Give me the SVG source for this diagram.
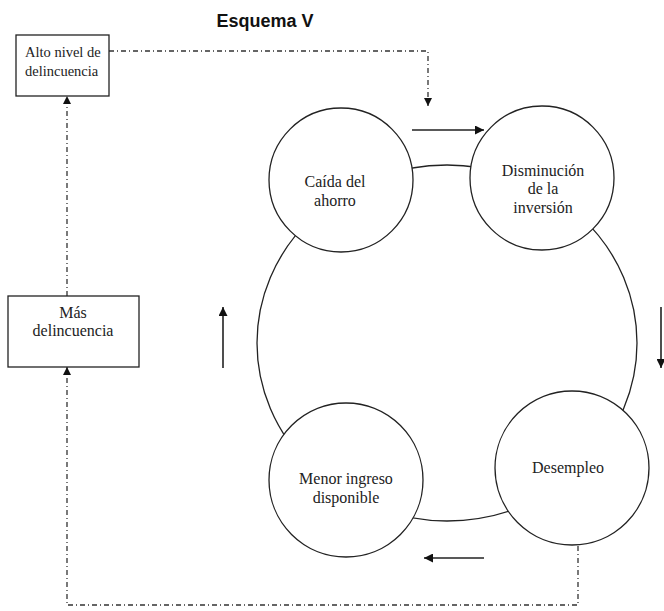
<svg xmlns="http://www.w3.org/2000/svg" width="664" height="611" viewBox="0 0 664 611">
<style>
.nd{fill:#fff;stroke:#222;stroke-width:1.3}
.t{font-family:"Liberation Serif","Times New Roman",serif;font-size:16px;fill:#222;text-anchor:middle}
.ts{font-family:"Liberation Serif","Times New Roman",serif;font-size:14.5px;fill:#222;text-anchor:start}
.ring{fill:none;stroke:#222;stroke-width:1.3}
.dd{fill:none;stroke:#333;stroke-width:1.3;stroke-dasharray:5 3 1 3}
.ar{fill:none;stroke:#222;stroke-width:1.6}
</style>
<defs>
<marker id="ah" viewBox="0 0 10 10" refX="10" refY="5" markerWidth="8" markerHeight="8" markerUnits="userSpaceOnUse" orient="auto">
<path d="M0,0 L10,5 L0,10 Z" fill="#111"/>
</marker>
<marker id="ahb" viewBox="0 0 10 10" refX="10" refY="5" markerWidth="9" markerHeight="9" markerUnits="userSpaceOnUse" orient="auto">
<path d="M0,0 L10,5 L0,10 Z" fill="#111"/>
</marker>
</defs>
<rect width="664" height="611" fill="#fff"/>
<text x="265" y="27" font-family="'Liberation Sans',Arial,sans-serif" font-weight="bold" font-size="18" fill="#111" text-anchor="middle">Esquema V</text>
<ellipse class="ring" cx="447" cy="343" rx="190" ry="178"/>
<g id="connectors">
<path class="dd" d="M109,51 H428 V106" marker-end="url(#ah)"/>
<path class="dd" d="M67,296 V96" marker-end="url(#ah)"/>
<path class="dd" d="M578,546 V605 H67 V367" marker-end="url(#ah)"/>
<line class="ar" x1="412" y1="130" x2="484" y2="130" marker-end="url(#ahb)"/>
<line class="ar" x1="661" y1="307" x2="661" y2="368" marker-end="url(#ahb)"/>
<line class="ar" x1="484" y1="558" x2="424" y2="558" marker-end="url(#ahb)"/>
<line class="ar" x1="223" y1="368" x2="223" y2="307" marker-end="url(#ahb)"/>
</g>
<g id="alto">
<rect class="nd" x="16" y="35" width="93" height="61"/>
<text class="ts" x="25" y="57">Alto nivel de</text>
<text class="ts" x="25" y="76">delincuencia</text>
</g>
<g id="mas">
<rect class="nd" x="8" y="296" width="131" height="71"/>
<text class="t" x="73" y="318">Más</text>
<text class="t" x="73" y="336">delincuencia</text>
</g>
<g id="caida">
<circle class="nd" cx="341" cy="180" r="72"/>
<text class="t" x="335" y="187">Caída del</text>
<text class="t" x="335" y="206">ahorro</text>
</g>
<g id="disminucion">
<circle class="nd" cx="542" cy="178" r="72"/>
<text class="t" x="543" y="176">Disminución</text>
<text class="t" x="543" y="194">de la</text>
<text class="t" x="543" y="213">inversión</text>
</g>
<g id="desempleo">
<circle class="nd" cx="572" cy="468" r="77"/>
<text class="t" x="568" y="473">Desempleo</text>
</g>
<g id="menor">
<circle class="nd" cx="346" cy="480" r="77"/>
<text class="t" x="346" y="484">Menor ingreso</text>
<text class="t" x="346" y="503">disponible</text>
</g>
</svg>
